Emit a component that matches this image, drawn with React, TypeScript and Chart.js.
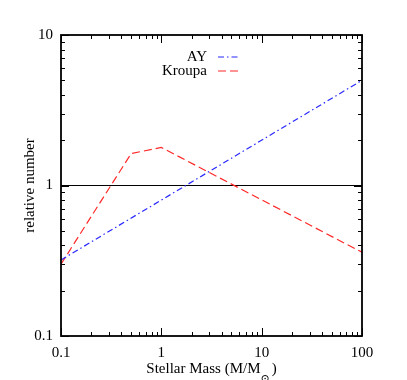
import React, { useEffect, useRef } from 'react';
import { Chart, registerables } from 'chart.js';

Chart.register(...registerables);

// ---- data ----
const massAY = [0.1, 100];
const valuesAY = [0.32, 5.0];
const massKroupa = [0.1, 0.5, 1, 100];
const valuesKroupa = [0.3, 1.63, 1.79, 0.36];
const refMass = [0.1, 100];
const refValues = [1, 1];
const xTickValues = [0.1, 1, 10, 100];
const xTickLabels = ['0.1', '1', '10', '100'];
const yTickValues = [0.1, 1, 10];
const yTickLabels = ['0.1', '1', '10'];
const seriesNames = ['AY', 'Kroupa'];
const xTitle = ['Stellar Mass (M/M', '\u2299', ')'];
const yTitle = 'relative number';

const FONT = '"Liberation Serif", "DejaVu Serif", serif';
const BLUE = 'rgb(40,40,255)';
const RED = 'rgb(255,40,40)';
const DASH_AY = [6, 3, 1.5, 3];
const DASH_KR = [8, 4];

const pts = (xs: number[], ys: number[]) => xs.map((x, i) => ({ x, y: ys[i] }));

const decorPlugin = {
  id: 'decor',
  afterDraw(chart: any) {
    const { ctx, chartArea: a, scales } = chart;
    const xs = scales.x;
    const ys = scales.y;
    ctx.save();
    ctx.strokeStyle = '#000';
    ctx.lineWidth = 1;
    ctx.setLineDash([]);
    const r = (v: number) => Math.round(v) + 0.5;
    // x ticks (top and bottom, inward)
    const xDecades = [0.1, 1, 10];
    const xTicks: [number, number][] = [];
    xDecades.forEach((d) => {
      for (let k = 1; k <= 9; k++) xTicks.push([d * k, k === 1 ? 8 : 4]);
    });
    xTicks.push([100, 8]);
    ctx.beginPath();
    xTicks.forEach(([v, len]) => {
      const px = r(xs.getPixelForValue(v));
      ctx.moveTo(px, a.bottom);
      ctx.lineTo(px, a.bottom - len);
      ctx.moveTo(px, a.top);
      ctx.lineTo(px, a.top + len);
    });
    // y ticks (left and right, inward)
    const yDecades = [0.1, 1];
    const yTicks: [number, number][] = [];
    yDecades.forEach((d) => {
      for (let k = 1; k <= 9; k++) yTicks.push([d * k, k === 1 ? 8 : 4]);
    });
    yTicks.push([10, 8]);
    yTicks.forEach(([v, len]) => {
      const py = r(ys.getPixelForValue(v));
      ctx.moveTo(a.left, py);
      ctx.lineTo(a.left + len, py);
      ctx.moveTo(a.right, py);
      ctx.lineTo(a.right - len, py);
    });
    ctx.stroke();
    // frame
    ctx.lineWidth = 1.8;
    ctx.strokeRect(a.left, a.top, a.right - a.left, a.bottom - a.top);
    ctx.restore();

    // legend
    const legX = 207;
    const legY = [57, 71];
    const cols = [BLUE, RED];
    const dashes = [DASH_AY, DASH_KR];
    seriesNames.forEach((name, i) => {
      ctx.save();
      ctx.font = '15px ' + FONT;
      ctx.fillStyle = '#000';
      ctx.textAlign = 'right';
      ctx.textBaseline = 'middle';
      ctx.fillText(name, legX, legY[i]);
      ctx.restore();
      ctx.save();
      ctx.beginPath();
      ctx.strokeStyle = cols[i];
      ctx.lineWidth = 1.2;
      ctx.setLineDash(dashes[i]);
      ctx.moveTo(218, legY[i]);
      ctx.lineTo(239, legY[i]);
      ctx.stroke();
      ctx.restore();
    });

    // x axis title with subscript
    ctx.save();
    const mainFont = '15px ' + FONT;
    const subFont = '11px ' + FONT;
    ctx.fillStyle = '#000';
    ctx.textAlign = 'left';
    ctx.textBaseline = 'alphabetic';
    ctx.font = mainFont;
    const w1 = ctx.measureText(xTitle[0]).width;
    const w3 = ctx.measureText(xTitle[2]).width;
    ctx.font = subFont;
    const w2 = ctx.measureText(xTitle[1]).width;
    const total = w1 + w2 + 2 + w3;
    const cx = (a.left + a.right) / 2;
    let sx = cx - total / 2;
    const base = 373;
    ctx.font = mainFont;
    ctx.fillText(xTitle[0], sx, base);
    sx += w1;
    ctx.font = subFont;
    ctx.fillText(xTitle[1], sx, base + 9);
    sx += w2 + 2;
    ctx.font = mainFont;
    ctx.fillText(xTitle[2], sx, base);
    ctx.restore();
  },
};

export default function App() {
  const ref = useRef<HTMLCanvasElement | null>(null);
  useEffect(() => {
    if (!ref.current) return;
    const chart = new Chart(ref.current, {
      type: 'line',
      data: {
        datasets: [
          {
            label: seriesNames[0],
            data: pts(massAY, valuesAY),
            borderColor: BLUE,
            borderWidth: 1.2,
            borderDash: DASH_AY,
            pointRadius: 0,
            fill: false,
            tension: 0,
          },
          {
            label: seriesNames[1],
            data: pts(massKroupa, valuesKroupa),
            borderColor: RED,
            borderWidth: 1.2,
            borderDash: DASH_KR,
            pointRadius: 0,
            fill: false,
            tension: 0,
          },
          {
            label: 'unity',
            data: pts(refMass, refValues),
            borderColor: '#000',
            borderWidth: 1,
            pointRadius: 0,
            fill: false,
            tension: 0,
          },
        ],
      },
      options: {
        responsive: false,
        animation: false,
        devicePixelRatio: 1,
        layout: { padding: { top: 35, right: 45, left: 0, bottom: 0 } },
        plugins: { legend: { display: false }, tooltip: { enabled: false }, title: { display: false } },
        scales: {
          x: {
            type: 'logarithmic',
            min: 0.1,
            max: 100,
            grid: { display: false, drawTicks: false },
            border: { display: false },
            afterBuildTicks: (s: any) => {
              s.ticks = xTickValues.map((v) => ({ value: v }));
            },
            afterFit: (s: any) => {
              s.height = 44;
            },
            ticks: {
              autoSkip: false,
              maxRotation: 0,
              padding: 8,
              color: '#000',
              font: { family: FONT, size: 15 },
              callback: (v: any) => {
                const i = xTickValues.findIndex((t) => Math.abs(t - v) / t < 1e-6);
                return i >= 0 ? xTickLabels[i] : '';
              },
            },
          },
          y: {
            type: 'logarithmic',
            min: 0.1,
            max: 10,
            grid: { display: false, drawTicks: false },
            border: { display: false },
            afterBuildTicks: (s: any) => {
              s.ticks = yTickValues.map((v) => ({ value: v }));
            },
            afterFit: (s: any) => {
              s.width = 61;
            },
            title: {
              display: true,
              text: yTitle,
              color: '#000',
              font: { family: FONT, size: 15 },
              padding: { top: 21, bottom: 0 },
            },
            ticks: {
              autoSkip: false,
              padding: 8,
              color: '#000',
              font: { family: FONT, size: 15 },
              callback: (v: any) => {
                const i = yTickValues.findIndex((t) => Math.abs(t - v) / t < 1e-6);
                return i >= 0 ? yTickLabels[i] : '';
              },
            },
          },
        },
      },
      plugins: [decorPlugin],
    } as any);
    return () => chart.destroy();
  }, []);
  return (
    <div style={{ position: 'absolute', left: 0, top: 0, width: 407, height: 380, background: '#fff' }}>
      <canvas ref={ref} width={407} height={380} style={{ width: 407, height: 380, display: 'block' }} />
    </div>
  );
}
